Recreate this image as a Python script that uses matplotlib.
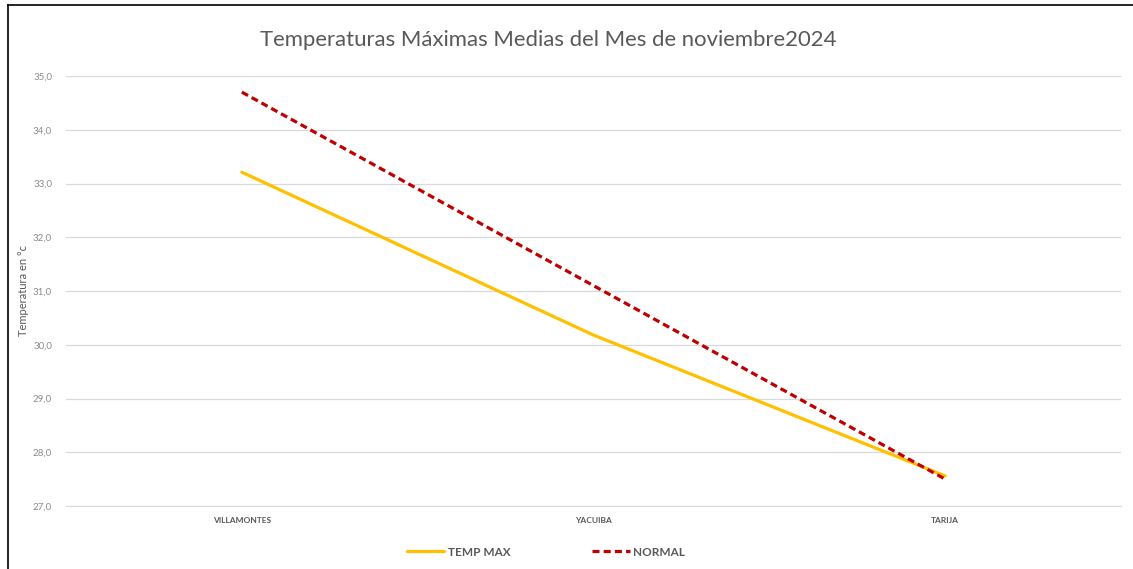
import matplotlib
matplotlib.use("Agg")
from matplotlib import pyplot as plt
from matplotlib.lines import Line2D

# data
estaciones = ["VILLAMONTES", "YACUIBA", "TARIJA"]
temp_max = [33.21, 30.18, 27.56]
normal = [34.70, 31.10, 27.50]
y_ticks = [27.0, 28.0, 29.0, 30.0, 31.0, 32.0, 33.0, 34.0, 35.0]

plt.rcParams["font.family"] = ["Lato", "DejaVu Sans"]

fig = plt.figure(figsize=(11.33, 5.69), dpi=100)
ax = fig.add_axes([66 / 1133, 1 - 506 / 569, (1121 - 66) / 1133, (506 - 76) / 569])

x = list(range(len(estaciones)))
ax.plot(x, temp_max, color="#FFC000", linewidth=2.3, label="TEMP MAX",
        solid_capstyle="round")
ax.plot(x, normal, color="#C00000", linewidth=2.3, linestyle=(0, (2.2, 1.3)),
        label="NORMAL")

ax.set_xlim(-0.5, 2.5)
ax.set_ylim(27, 35)
ax.set_yticks(y_ticks)
ax.set_yticklabels([f"{v:.1f}".replace(".", ",") for v in y_ticks],
                   fontsize=7, color="#8c8c8c")
ax.set_xticks(x)
ax.set_xticklabels(estaciones, fontsize=6, color="#595959", fontweight="bold",
                   fontstretch="condensed")
ax.tick_params(length=0, pad=8)
ax.tick_params(axis="y", pad=10)
ax.grid(axis="y", color="#d9d9d9", linewidth=0.9)
ax.set_axisbelow(True)
for s in ax.spines.values():
    s.set_visible(False)
ax.spines["bottom"].set_visible(True)
ax.spines["bottom"].set_color("#d9d9d9")

ax.set_ylabel("Temperatura en °c", fontsize=8, color="#595959")
ax.yaxis.set_label_coords(-0.035, 0.502)

fig.text(548 / 1133, 1 - 40 / 569,
         "Temperaturas Máximas Medias del Mes de noviembre2024",
         ha="center", va="center", fontsize=15.9, color="#595959")

leg = fig.legend(loc="center", bbox_to_anchor=(546 / 1133, 1 - 552 / 569),
                 ncol=2, frameon=False, fontsize=8.5, handlelength=3.2,
                 handletextpad=0.3, columnspacing=6.9)
for t in leg.get_texts():
    t.set_color("#595959")
    t.set_fontweight("bold")

# partial frame of the screenshot
fig.add_artist(Line2D([8 / 1133, 8 / 1133], [0, 1 - 5 / 569],
                      transform=fig.transFigure, color="black", linewidth=1.2))
fig.add_artist(Line2D([8 / 1133, 1], [1 - 5 / 569, 1 - 5 / 569],
                      transform=fig.transFigure, color="black", linewidth=1.2))

fig.savefig("out.png", dpi=100)
